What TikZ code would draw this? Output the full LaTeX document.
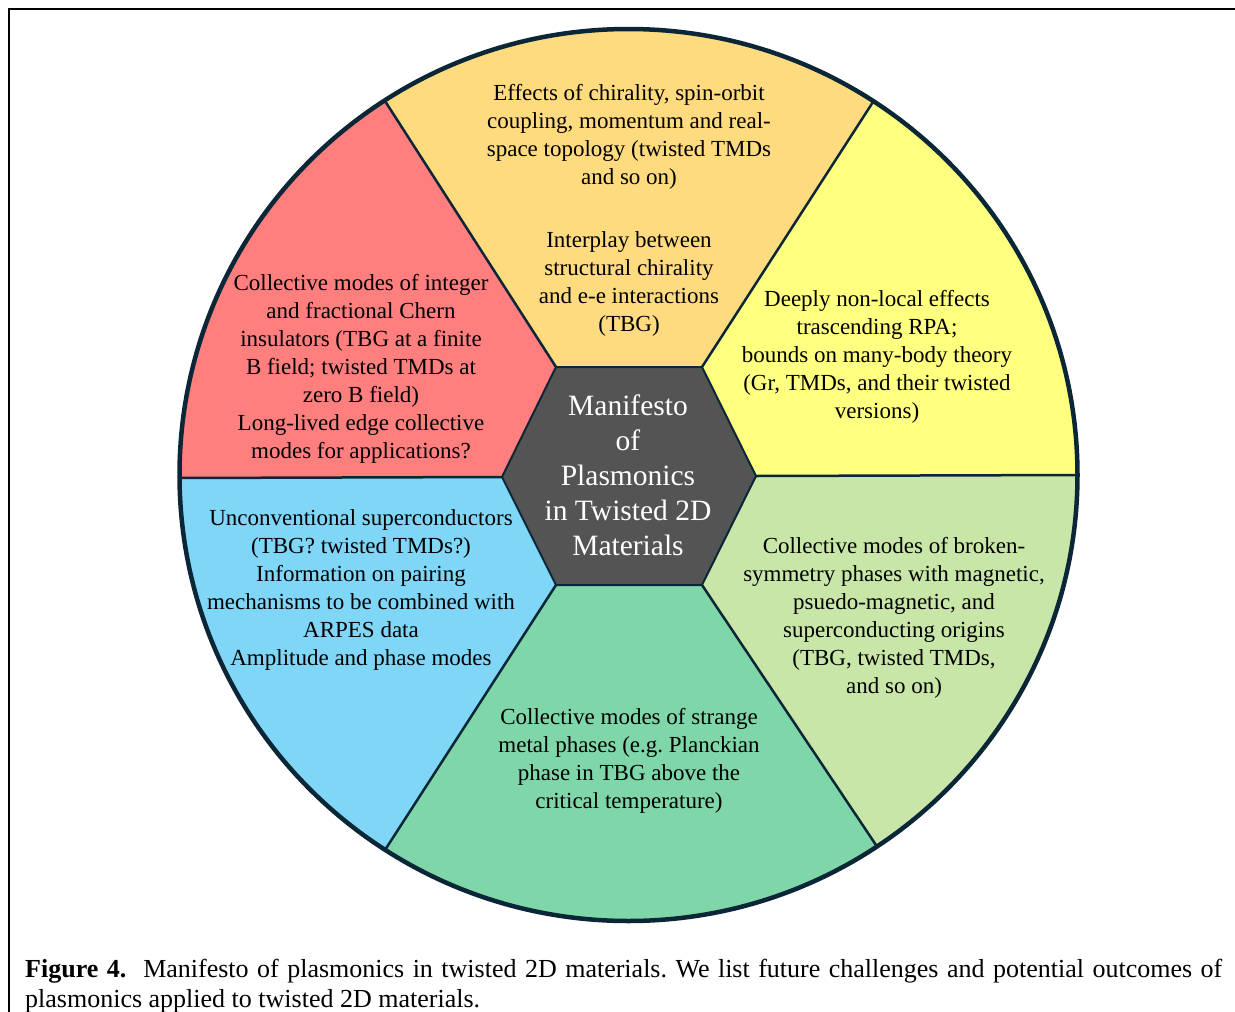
\documentclass[tikz,border=0pt]{standalone}
\usepackage{fontspec}
\setmainfont{Liberation Serif}
\usepackage{tikz}
\usetikzlibrary{calc}
\frenchspacing

\definecolor{rimblue}{HTML}{0B2636}
\definecolor{segred}{HTML}{FF7F7F}
\definecolor{segorange}{HTML}{FFDB80}
\definecolor{segyellow}{HTML}{FFFF80}
\definecolor{seglime}{HTML}{C8E6A8}
\definecolor{seggreen}{HTML}{7FD6A8}
\definecolor{segblue}{HTML}{7FD6F6}
\definecolor{hexgray}{HTML}{545454}

\begin{document}
\begin{tikzpicture}[x=1pt, y=-1pt,
    every node/.style={inner sep=0pt, align=center, font=\fontsize{23}{28}\selectfont},
    hextext/.style={text=white, font=\fontsize{29.5}{35}\selectfont},
    captext/.style={anchor=base west, align=left, font=\fontsize{26}{30}\selectfont}]
\useasboundingbox (0,0) rectangle (1235,1012);
\draw[line width=2pt] (8.5,1012) -- (8.5,8.5) -- (1235,8.5);
% hexagon corners and points beyond the rim
\foreach \n/\hx/\hy/\px/\py in {1/556/367/385/101, 2/702/367/873/102, 3/756/476/1080/475,
                                4/702/585/878/848, 5/556/585/385/850, 6/502/477/178/478}
  {\coordinate (h\n) at (\hx,\hy); \coordinate (r\n) at ($(\hx,\hy)!2!(\px,\py)$);}
\begin{scope}
  \clip (628.5,475) ellipse (449 and 446);
  \foreach \a/\b/\c in {1/2/segorange, 2/3/segyellow, 3/4/seglime, 4/5/seggreen, 5/6/segblue, 6/1/segred}
    \fill[\c] (h\a) -- (r\a) -- (r\b) -- (h\b) -- cycle;
  \foreach \a in {1,...,6}
    \draw[rimblue, line width=2.5pt] (h\a) -- (r\a);
\end{scope}
\draw[rimblue, line width=4.5pt] (628.5,475) ellipse (449 and 446);
\filldraw[fill=hexgray, draw=rimblue, line width=2pt] (h1) -- (h2) -- (h3) -- (h4) -- (h5) -- (h6) -- cycle;

\node (chiral) at (629,210) {Effects of chirality, spin-orbit\\coupling, momentum and real-\\space topology (twisted TMDs\\and so on)\\[35pt]Interplay between\\structural chirality\\and e-e interactions\\(TBG)};
\node (nonlocal) at (877,356.5) {Deeply non-local effects\\trascending RPA;\\bounds on many-body theory\\(Gr, TMDs, and their twisted\\versions)};
\node (broken) at (894,618) {Collective modes of broken-\\symmetry phases with magnetic,\\psuedo-magnetic, and\\superconducting origins\\(TBG, twisted TMDs,\\and so on)};
\node (strange) at (629,760.5) {Collective modes of strange\\metal phases (e.g. Planckian\\phase in TBG above the\\critical temperature)};
\node (supercond) at (361,590) {Unconventional superconductors\\(TBG? twisted TMDs?)\\Information on pairing\\mechanisms to be combined with\\ARPES data\\Amplitude and phase modes};
\node (chern) at (361,368.5) {Collective modes of integer\\and fractional Chern\\insulators (TBG at a finite\\B field; twisted TMDs at\\zero B field)\\Long-lived edge collective\\modes for applications?};
\node[hextext] (manifesto) at (628,475.5) {Manifesto\\of\\Plasmonics\\in Twisted 2D\\Materials};

\node[captext] (caption) at (25,977) {\makebox[1197pt][s]{\textbf{Figure 4.}\ \ Manifesto of plasmonics in twisted 2D materials. We list future challenges and potential outcomes of}};
\node[captext] (caption2) at (25,1007) {plasmonics applied to twisted 2D materials.};
\end{tikzpicture}
\end{document}
